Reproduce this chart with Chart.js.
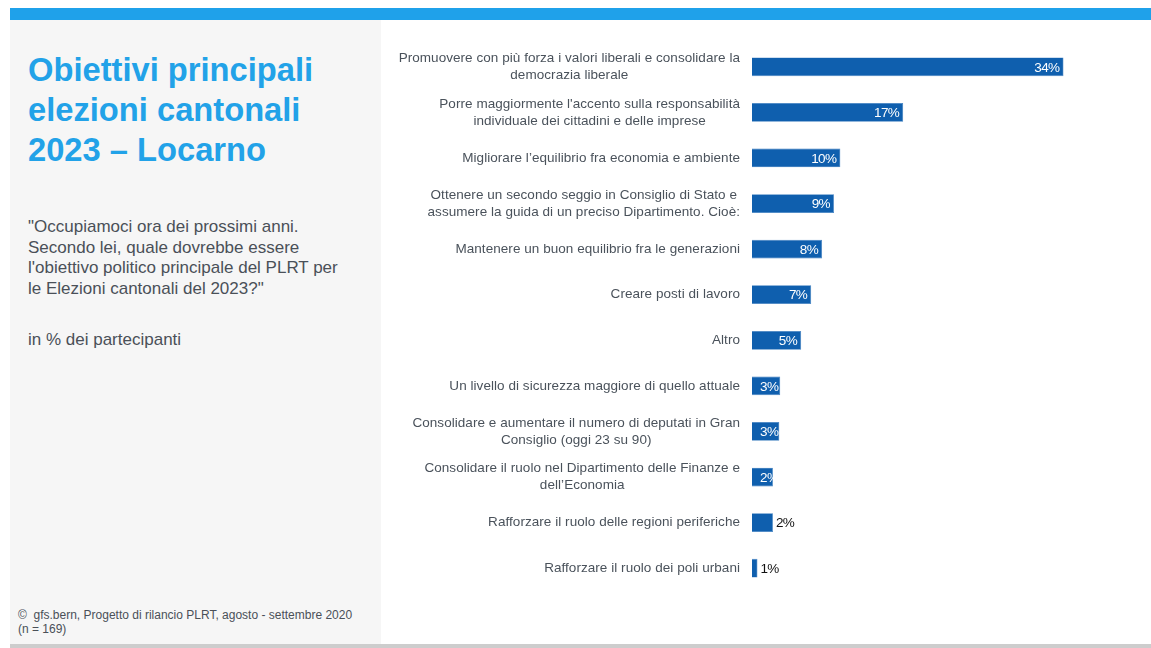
<!DOCTYPE html>
<html>
<head>
<meta charset="utf-8">
<script src="https://cdn.jsdelivr.net/npm/chart.js@4"></script>
<style>
    body { margin: 0; width: 1151px; height: 648px; background: #fff; position: relative; overflow: hidden; font-family: "Liberation Sans", Arial, sans-serif; }
    .topBar { position: absolute; left: 10px; top: 8px; width: 1141px; height: 12px; background: #1fa1ea; }
    .panel { position: absolute; left: 10px; top: 20px; width: 371px; height: 624px; background: #f6f6f6; }
    .bottomBar { position: absolute; left: 10px; top: 644px; width: 1141px; height: 4px; background: #cdcdcd; }
    .title { position: absolute; left: 28px; top: 50px; font-size: 32.7px; line-height: 40px; font-weight: bold; color: #22a2e8; }
    .quote { position: absolute; left: 28px; top: 217px; font-size: 17px; line-height: 20.5px; color: #4a5058; }
    .unit { position: absolute; left: 28px; top: 330px; font-size: 17px; line-height: 20.5px; color: #4a5058; }
    .source { position: absolute; left: 18px; top: 608px; font-size: 12px; line-height: 14px; color: #4a5058; }
    #chartBox { position: absolute; left: 381px; top: 20px; width: 770px; height: 624px; }
</style>
</head>
<body>
<div class="topBar"></div>
<div class="panel"></div>
<div class="bottomBar"></div>
<div class="title">Obiettivi principali<br>elezioni cantonali<br>2023 – Locarno</div>
<div class="quote">"Occupiamoci ora dei prossimi anni.<br>Secondo lei, quale dovrebbe essere<br>l'obiettivo politico principale del PLRT per<br>le Elezioni cantonali del 2023?"</div>
<div class="unit">in % dei partecipanti</div>
<div class="source">©&nbsp; gfs.bern, Progetto di rilancio PLRT, agosto - settembre 2020<br>(n = 169)</div>
<div id="chartBox"><canvas id="myChart" width="770" height="624"></canvas></div>

<script>
// --- Dati ---
const categories = [
    ['Promuovere con più forza i valori liberali e consolidare la', 'democrazia liberale'],
    ["Porre maggiormente l'accento sulla responsabilità", 'individuale dei cittadini e delle imprese'],
    ['Migliorare l’equilibrio fra economia e ambiente'],
    ['Ottenere un secondo seggio in Consiglio di Stato e', 'assumere la guida di un preciso Dipartimento. Cioè:'],
    ['Mantenere un buon equilibrio fra le generazioni'],
    ['Creare posti di lavoro'],
    ['Altro'],
    ['Un livello di sicurezza maggiore di quello attuale'],
    ['Consolidare e aumentare il numero di deputati in Gran', 'Consiglio (oggi 23 su 90)'],
    ['Consolidare il ruolo nel Dipartimento delle Finanze e', 'dell’Economia'],
    ['Rafforzare il ruolo delle regioni periferiche'],
    ['Rafforzare il ruolo dei poli urbani']
];
const values = [34.2, 16.6, 9.7, 9.0, 7.7, 6.5, 5.4, 3.1, 3.0, 2.3, 2.3, 0.6];
const valueLabels = ['34%', '17%', '10%', '9%', '8%', '7%', '5%', '3%', '3%', '2%', '2%', '1%'];

// --- Stile ---
const barColor = '#0f5fae';
const labelColor = '#4a525b';
const outsideLabels = [10, 11];

// Etichette delle categorie: blocco allineato a destra, righe centrate tra loro
const categoryLabelsPlugin = {
    id: 'categoryLabels',
    afterDraw(chart) {
        const ctx = chart.ctx;
        const yScale = chart.scales.y;
        const right = chart.chartArea.left - 12;
        const lineH = 17;
        ctx.save();
        ctx.font = '13.5px "Liberation Sans", Arial, sans-serif';
        ctx.letterSpacing = '0.05px';
        ctx.fillStyle = labelColor;
        ctx.textAlign = 'center';
        ctx.textBaseline = 'middle';
        categories.forEach((lines, i) => {
            const yc = yScale.getPixelForValue(i);
            const maxW = Math.max(...lines.map(l => ctx.measureText(l).width));
            const cx = right - maxW / 2;
            const y0 = yc - (lines.length - 1) * lineH / 2;
            lines.forEach((l, k) => ctx.fillText(l, cx, y0 + k * lineH));
        });
        ctx.restore();
    }
};

// Valori sulle barre
const valueLabelsPlugin = {
    id: 'valueLabels',
    afterDatasetsDraw(chart) {
        const ctx = chart.ctx;
        const meta = chart.getDatasetMeta(0);
        ctx.save();
        ctx.font = '13.5px "Liberation Sans", Arial, sans-serif';
        ctx.letterSpacing = '-0.6px';
        ctx.textBaseline = 'middle';
        meta.data.forEach((bar, i) => {
            const txt = valueLabels[i];
            const w = ctx.measureText(txt).width;
            const start = bar.base;
            const end = bar.x;
            if (outsideLabels.includes(i)) {
                ctx.fillStyle = '#111';
                ctx.textAlign = 'left';
                ctx.fillText(txt, end + 3, bar.y + 1);
            } else {
                ctx.save();
                ctx.beginPath();
                ctx.rect(start, bar.y - bar.height / 2, end - start, bar.height);
                ctx.clip();
                ctx.fillStyle = '#fff';
                ctx.textAlign = 'left';
                const x = Math.max(end - 4 - w, start + 8);
                ctx.fillText(txt, x, bar.y + 1);
                ctx.restore();
            }
        });
        ctx.restore();
    }
};

const chartCanvas = document.getElementById('myChart');
new Chart(chartCanvas.getContext('2d'), {
    type: 'bar',
    data: {
        labels: categories.map((c, i) => i),
        datasets: [{
            data: values,
            backgroundColor: barColor,
            borderColor: '#3d7ec0',
            borderWidth: 0.6,
            barPercentage: 0.41,
            categoryPercentage: 1
        }]
    },
    options: {
        indexAxis: 'y',
        responsive: false,
        animation: false,
        layout: { padding: { left: 371, top: 24, bottom: 53, right: 11 } },
        scales: {
            x: { display: false, min: 0, max: 42.6 },
            y: { display: false }
        },
        plugins: {
            legend: { display: false },
            tooltip: { enabled: false }
        }
    },
    plugins: [categoryLabelsPlugin, valueLabelsPlugin]
});
</script>
</body>
</html>
